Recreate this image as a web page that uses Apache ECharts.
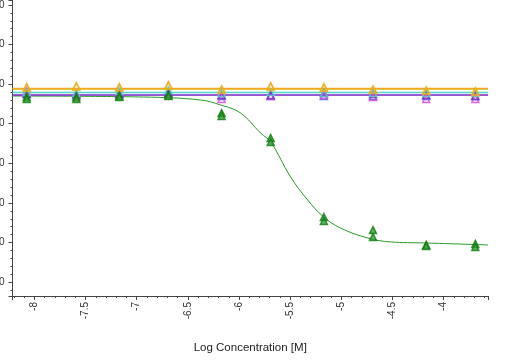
<!DOCTYPE html>
<html><head><meta charset="utf-8">
<script src="https://cdn.jsdelivr.net/npm/echarts@6/dist/echarts.min.js"></script>
<style>html,body{margin:0;padding:0;background:#fff}#c{width:532px;height:364px}</style>
</head><body><div id="c"></div>
<script>
// Log concentrations of the measured points
const logConc = [-8.075, -7.59, -7.17, -6.69, -6.17, -5.69, -5.17, -4.69, -4.17, -3.69];
// Axis extents and tick labels
const xRange = [-8.214, -3.566];
const yRange = [-7, 142.5];
const xTickLabels = ['-8', '-7.5', '-7', '-6.5', '-6', '-5.5', '-5', '-4.5', '-4'];
const yTickLabels = ['0', '20', '40', '60', '80', '100', '120', '140'];
// Green compound (two replicates) and its fitted curve
const greenRep1 = [93.5, 93.5, 94.0, 94.5, 85.4, 72.8, 32.9, 26.3, 18.8, 19.3];
const greenRep2 = [92.5, 92.5, 93.5, 94.0, 83.9, 70.8, 30.9, 22.8, 18.3, 17.8];
const greenFitX = [-8.214, -6.935, -6.377, -6.181, -5.985, -5.789, -5.691, -5.495, -5.329, -5.172, -5.006, -4.741, -4.516, -4.193, -3.566];
const greenFitY = [94.0, 93.5, 92.0, 89.5, 85.4, 75.3, 70.8, 53.1, 41.5, 32.9, 27.3, 22.3, 20.3, 19.8, 18.8];
// Inactive compounds: points and flat fit levels
const orangeVals = [98.6, 99.1, 98.6, 99.6, 97.0, 99.1, 98.1, 97.0, 96.5, 96.0];
const yellowVals = [98.1, 98.6, 98.1, 99.1, 97.5, 98.6, 98.6, 97.5, 97.0, 96.5];
const cyanVals = [96.0, 95.5, 96.5, 97.0, 95.5, 96.0, 95.5, 95.5, 95.5, 95.5];
const purpleVals = [95.0, 95.0, 95.0, 95.5, 94.5, 94.5, 95.5, 95.0, 94.5, 94.0];
const magentaVals = [96.5, 94.5, 95.0, 95.0, 92.5, 94.0, 94.5, 93.5, 92.5, 92.5];
const blueVals = [95.0, 94.5, 95.0, 96.0, 94.0, 94.0, 94.0, 94.0, 94.0, 94.0];
const orangeFit = 97.8;
const yellowFit = 97.6;
const cyanFit = 95.8;
const purpleFit = 94.5;

const pts = v => logConc.map((x, i) => [x, v[i]]);
const flat = lvl => [[xRange[0], lvl], [xRange[1], lvl]];

const C = {
  green: '#0d7d0d', orange: '#f5a623', yellow: '#cfc21a', cyan: '#52d6c8',
  purple: '#7a22c8', magenta: '#e040e0', blue: '#3a5ae8'
};

function fitLine(data, color, w, smooth) {
  return { type: 'line', data, showSymbol: false, smooth: smooth || false,
    lineStyle: { color, width: w }, silent: true, z: 2, animation: false };
}
function scat(data, color, fill) {
  return { type: 'scatter', data, symbol: 'triangle', symbolSize: 7,
    itemStyle: { color: fill || 'rgba(255,255,255,0)', borderColor: color, borderWidth: 1.5 },
    z: 3, animation: false };
}

const chart = echarts.init(document.getElementById('c'), null, { renderer: 'canvas' });
chart.setOption({
  animation: false,
  grid: { left: 12.5, right: 44, top: 0, bottom: 68, containLabel: false, outerBoundsMode: 'none' },
  xAxis: {
    type: 'value', min: xRange[0], max: xRange[1],
    minInterval: 0.5, maxInterval: 0.5, splitNumber: 9,
    name: 'Log Concentration [M]', nameLocation: 'middle', nameGap: 46,
    nameTextStyle: { fontFamily: 'Liberation Sans', fontSize: 11.5, color: '#222' },
    axisLine: { show: true, onZero: false, lineStyle: { color: '#444', width: 1 } },
    axisTick: { show: true, length: 4, lineStyle: { color: '#444' } },
    minorTick: { show: true, splitNumber: 5, length: 2, lineStyle: { color: '#444' } },
    splitLine: { show: false },
    axisLabel: { rotate: 90, margin: 6, fontFamily: 'Liberation Sans', fontSize: 10, color: '#333',
      showMinLabel: false, showMaxLabel: false,
      formatter: v => { const s = String(Math.round(v * 10) / 10); return xTickLabels.includes(s) ? s : ''; } }
  },
  yAxis: {
    type: 'value', min: yRange[0], max: yRange[1],
    minInterval: 20, maxInterval: 20, splitNumber: 7,
    axisLine: { show: true, onZero: false, lineStyle: { color: '#444', width: 1 } },
    axisTick: { show: true, length: 4, lineStyle: { color: '#444' } },
    minorTick: { show: true, splitNumber: 5, length: 2, lineStyle: { color: '#444' } },
    splitLine: { show: false },
    axisLabel: { margin: 8, fontFamily: 'Liberation Sans', fontSize: 10, color: '#333',
      showMinLabel: false, showMaxLabel: false,
      formatter: v => { const s = String(Math.round(v)); return yTickLabels.includes(s) ? s : ''; } }
  },
  series: [
    fitLine(greenFitX.map((x, i) => [x, greenFitY[i]]), '#2a9a2a', 1, 0.4),
    fitLine(flat(purpleFit), C.purple, 1.5),
    fitLine(flat(cyanFit), C.cyan, 1.5),
    fitLine(flat(yellowFit), C.yellow, 1.5),
    fitLine(flat(orangeFit), C.orange, 1.5),
    scat(pts(blueVals), C.blue),
    scat(pts(magentaVals), C.magenta),
    scat(pts(purpleVals), C.purple),
    scat(pts(cyanVals), C.cyan),
    scat(pts(yellowVals), C.yellow),
    scat(pts(orangeVals), C.orange),
    scat(pts(greenRep1), C.green, '#3aa03a'),
    scat(pts(greenRep2), C.green, '#3aa03a')
  ]
});
</script></body></html>
